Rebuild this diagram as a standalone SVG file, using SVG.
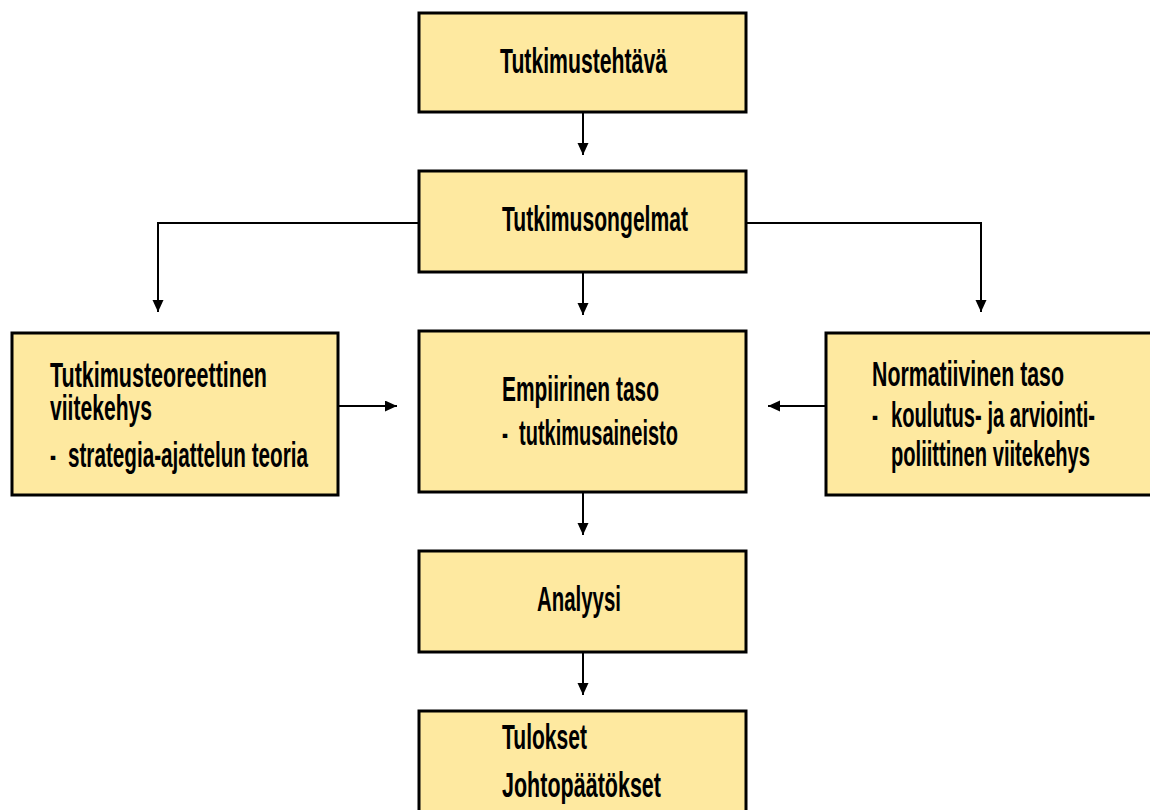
<svg xmlns="http://www.w3.org/2000/svg" width="1150" height="810" viewBox="0 0 1150 810">
<defs>
<style>
.box{fill:#FEE9A0;stroke:#000;stroke-width:3}
.t{font-family:"Liberation Sans",Arial,sans-serif;font-weight:bold;font-size:35px;fill:#000}
.c{fill:none;stroke:#000;stroke-width:2}
</style>
<marker id="ah" markerUnits="userSpaceOnUse" markerWidth="12" markerHeight="12" refX="12" refY="5.5" orient="auto">
<path d="M0,0 L12,5.5 L0,11 z" fill="#000"/>
</marker>
</defs>
<rect width="1150" height="810" fill="#fff"/>
<g id="connectors">
<path class="c" d="M583,113 V155" marker-end="url(#ah)"/>
<path class="c" d="M583,273 V315" marker-end="url(#ah)"/>
<path class="c" d="M418,223 H158 V312" marker-end="url(#ah)"/>
<path class="c" d="M747,223 H981 V312" marker-end="url(#ah)"/>
<path class="c" d="M339,406 H397" marker-end="url(#ah)"/>
<path class="c" d="M825,406 H768" marker-end="url(#ah)"/>
<path class="c" d="M583,493 V535" marker-end="url(#ah)"/>
<path class="c" d="M583,653 V695" marker-end="url(#ah)"/>
</g>
<g id="tutkimustehtava">
<rect class="box" x="419" y="13" width="327" height="99"/>
<text class="t" x="500" y="73" textLength="167" lengthAdjust="spacingAndGlyphs">Tutkimustehtävä</text>
</g>
<g id="tutkimusongelmat">
<rect class="box" x="419" y="171" width="327" height="101"/>
<text class="t" x="502" y="231" textLength="186" lengthAdjust="spacingAndGlyphs">Tutkimusongelmat</text>
</g>
<g id="teoreettinen">
<rect class="box" x="12" y="333" width="326" height="162"/>
<text class="t" x="50" y="387" textLength="217" lengthAdjust="spacingAndGlyphs">Tutkimusteoreettinen</text>
<text class="t" x="50" y="420" textLength="102" lengthAdjust="spacingAndGlyphs">viitekehys</text>
<text class="t" x="50" y="467" textLength="6" lengthAdjust="spacingAndGlyphs">-</text>
<text class="t" x="68" y="467" textLength="240" lengthAdjust="spacingAndGlyphs">strategia-ajattelun teoria</text>
</g>
<g id="empiirinen">
<rect class="box" x="419" y="331" width="327" height="161"/>
<text class="t" x="502" y="401" textLength="157" lengthAdjust="spacingAndGlyphs">Empiirinen taso</text>
<text class="t" x="502" y="445" textLength="6" lengthAdjust="spacingAndGlyphs">-</text>
<text class="t" x="519" y="445" textLength="159" lengthAdjust="spacingAndGlyphs">tutkimusaineisto</text>
</g>
<g id="normatiivinen">
<rect class="box" x="826" y="333" width="340" height="162"/>
<text class="t" x="872" y="386" textLength="192" lengthAdjust="spacingAndGlyphs">Normatiivinen taso</text>
<text class="t" x="872" y="427" textLength="6" lengthAdjust="spacingAndGlyphs">-</text>
<text class="t" x="891" y="427" textLength="204" lengthAdjust="spacingAndGlyphs">koulutus- ja arviointi-</text>
<text class="t" x="891" y="466" textLength="199" lengthAdjust="spacingAndGlyphs">poliittinen viitekehys</text>
</g>
<g id="analyysi">
<rect class="box" x="419" y="551" width="327" height="101"/>
<text class="t" x="537" y="611" textLength="84" lengthAdjust="spacingAndGlyphs">Analyysi</text>
</g>
<g id="tulokset">
<rect class="box" x="419" y="711" width="327" height="120"/>
<text class="t" x="502" y="749" textLength="85" lengthAdjust="spacingAndGlyphs">Tulokset</text>
<text class="t" x="502" y="797" textLength="159" lengthAdjust="spacingAndGlyphs">Johtopäätökset</text>
</g>
</svg>
